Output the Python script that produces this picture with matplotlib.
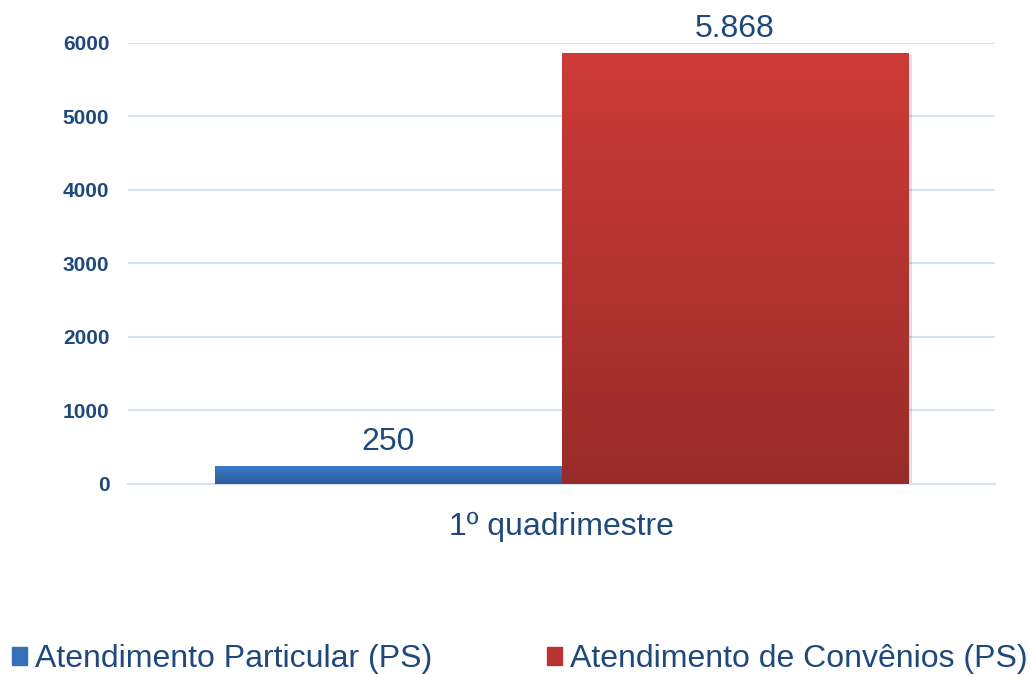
import matplotlib.pyplot as plt
import matplotlib.patches as mpatches
import numpy as np
from matplotlib.colors import LinearSegmentedColormap

plt.rcParams['font.family'] = ['Liberation Sans', 'DejaVu Sans']

categories = ['1º quadrimestre']
series_names = ['Atendimento Particular (PS)', 'Atendimento de Convênios (PS)']
series_values = [[250], [5868]]
yticks = [0, 1000, 2000, 3000, 4000, 5000, 6000]

txt_color = '#1F497D'
top_colors = ['#3C7DCB', '#CD3B37']
bot_colors = ['#2D5C9B', '#982C2A']
legend_colors = ['#3670B8', '#B83431']

fig = plt.figure(figsize=(10.3, 6.75), dpi=100)
ax = fig.add_axes([0.1243, 0.283, 0.8417, 0.6533])

x = np.arange(len(categories))
width = 0.4
offsets = [-0.2, 0.2]

for i, (name, vals) in enumerate(zip(series_names, series_values)):
    bars = ax.bar(x + offsets[i], vals, width, color=legend_colors[i], zorder=3, label=name)
    cmap = LinearSegmentedColormap.from_list('g%d' % i, [bot_colors[i], top_colors[i]])
    for b, v in zip(bars, vals):
        x0, y0 = b.get_x(), b.get_y()
        w, h = b.get_width(), b.get_height()
        # soft shadow
        sh = mpatches.Rectangle((x0 + 0.004, y0 - 25), w, h, color='#000000', alpha=0.12, zorder=2, lw=0)
        ax.add_patch(sh)
        grad = np.linspace(0, 1, 256).reshape(-1, 1)
        im = ax.imshow(grad, aspect='auto', cmap=cmap, origin='lower',
                       extent=(x0, x0 + w, y0, y0 + h), zorder=4)
        im.set_clip_path(b)
        lbl = f'{v:,}'.replace(',', '.')
        ax.annotate(lbl, (x0 + w / 2, v), xytext=(0, 6), textcoords='offset points',
                    ha='center', va='bottom', fontsize=23, color=txt_color,
                    annotation_clip=False)

ax.set_xlim(-0.5, 0.5)
ax.set_ylim(0, 6000)
ax.set_yticks(yticks)
ax.set_yticklabels([str(t) for t in yticks], fontsize=15, fontweight='bold', color=txt_color)
ax.set_xticks(x)
ax.set_xticklabels(categories, fontsize=23, color=txt_color)
ax.tick_params(axis='both', length=0)
ax.tick_params(axis='x', pad=20)
ax.tick_params(axis='y', pad=13.5)
ax.yaxis.grid(True, color='#D6E1F1', linewidth=1.5, zorder=0)
ax.set_axisbelow(True)
for s in ['top', 'right', 'left']:
    ax.spines[s].set_visible(False)
ax.spines['bottom'].set_color('#D6E1F1')
ax.spines['bottom'].set_linewidth(1.5)

handles = [mpatches.Patch(color=c) for c in legend_colors]
fig.legend(handles, series_names, loc='center left', bbox_to_anchor=(-0.01, 0.023),
           ncol=2, frameon=False, fontsize=23, labelcolor=txt_color, borderpad=0.2,
           handlelength=0.47, handleheight=0.47, handletextpad=0.25, columnspacing=3.6)

fig.savefig('out.png', dpi=100)
